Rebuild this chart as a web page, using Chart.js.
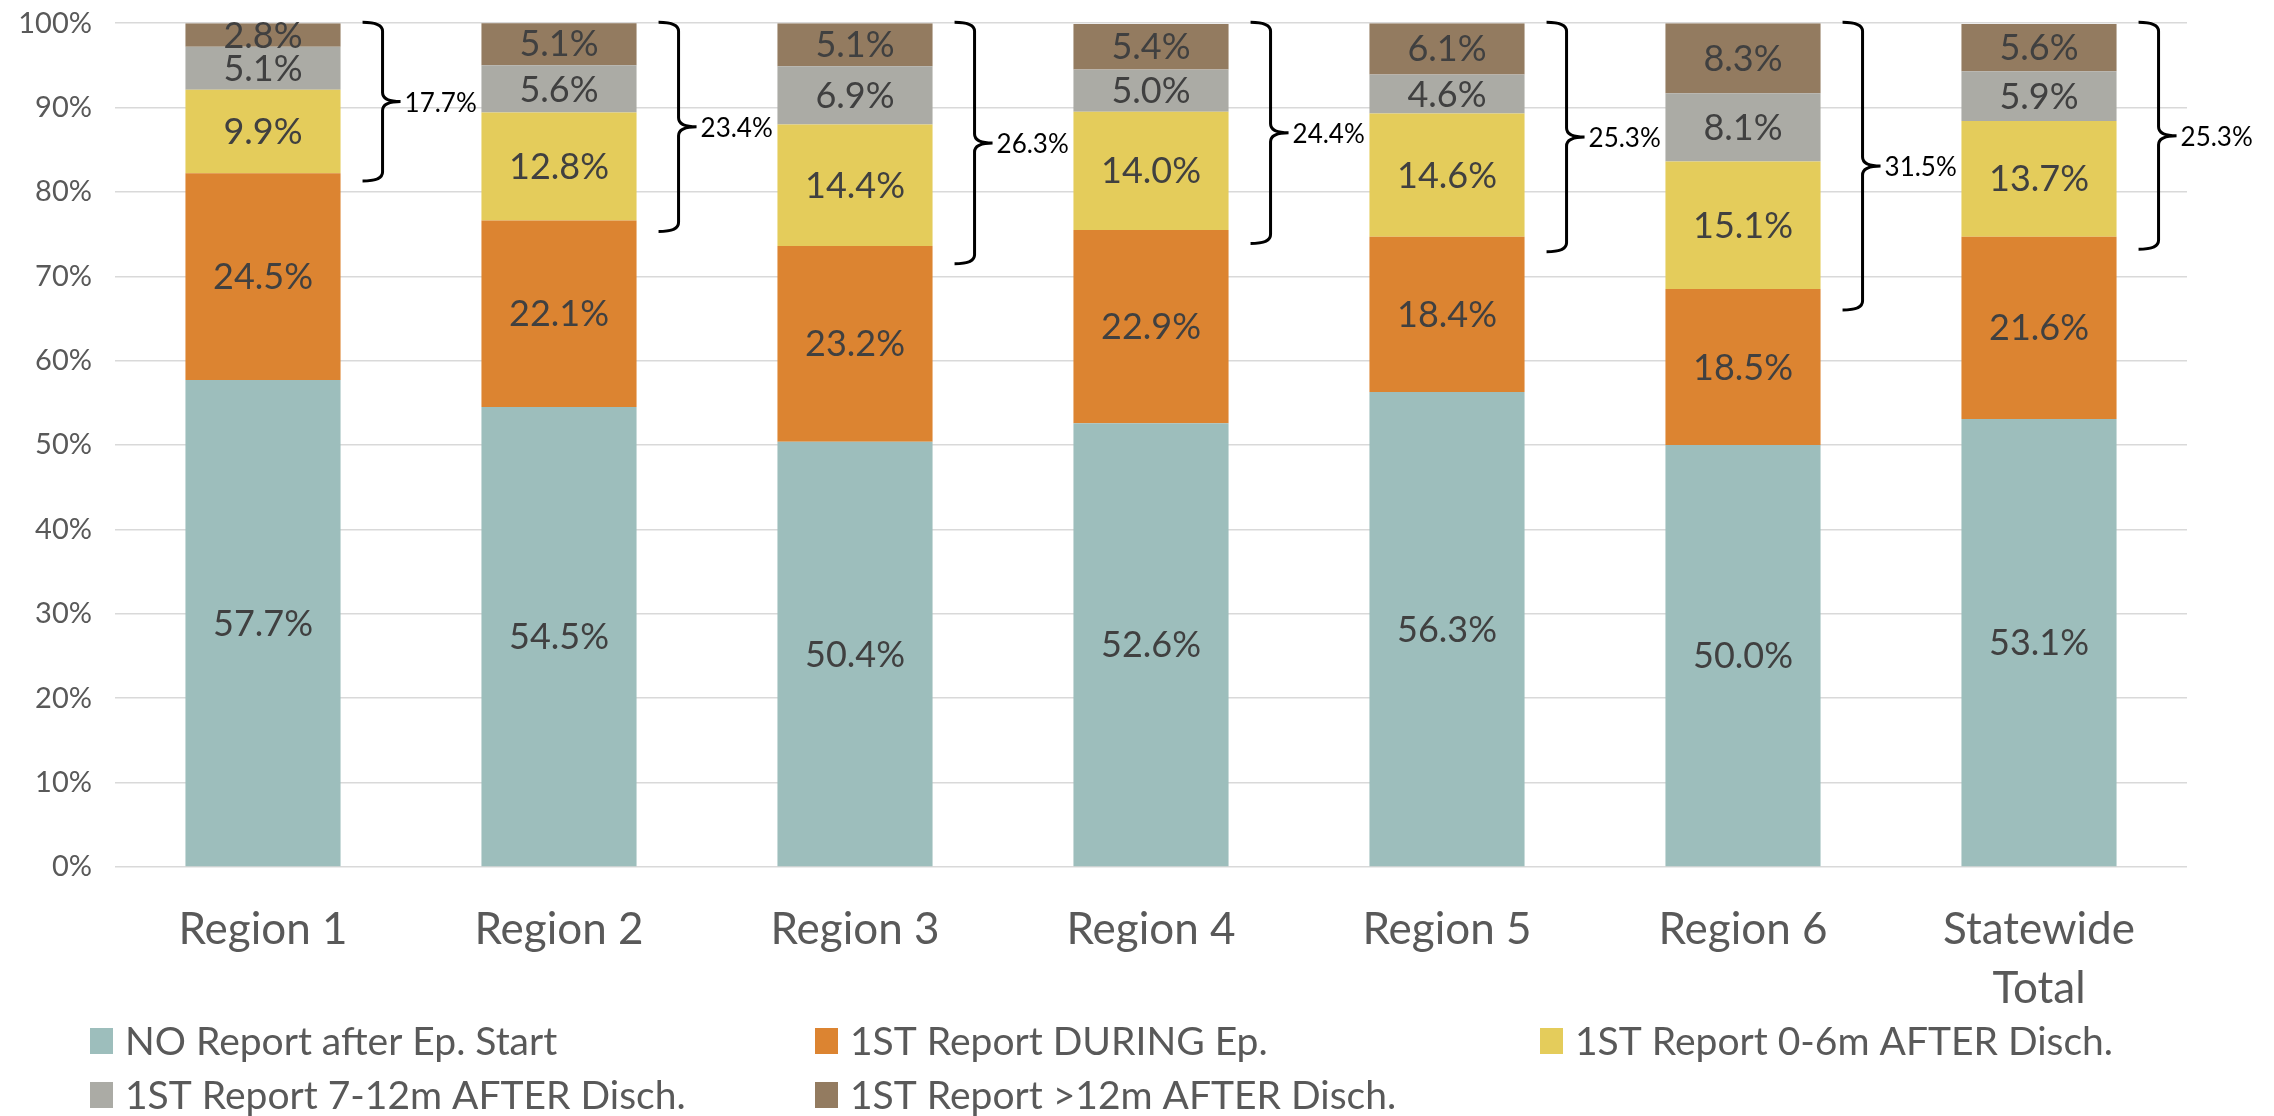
<!DOCTYPE html>
<html>
<head>
<meta charset="utf-8">
<script src="https://cdn.jsdelivr.net/npm/chart.js@4"></script>
<style>
  html, body { margin: 0; padding: 0; background: #fff; }
  #wrap { width: 2274px; height: 1116px; }
</style>
</head>
<body>
<div id="wrap"><canvas id="chart" width="2274" height="1116"></canvas></div>
<script>
// categories and series (percent)
const categories = ['Region 1', 'Region 2', 'Region 3', 'Region 4', 'Region 5', 'Region 6', ['Statewide', 'Total']];
const seriesNames = [
  'NO Report after Ep. Start',
  '1ST Report DURING Ep.',
  '1ST Report 0-6m AFTER Disch.',
  '1ST Report 7-12m AFTER Disch.',
  '1ST Report >12m AFTER Disch.'
];
const noReport     = [57.7, 54.5, 50.4, 52.6, 56.3, 50.0, 53.1];
const duringEp     = [24.5, 22.1, 23.2, 22.9, 18.4, 18.5, 21.6];
const after0to6    = [9.9, 12.8, 14.4, 14.0, 14.6, 15.1, 13.7];
const after7to12   = [5.1, 5.6, 6.9, 5.0, 4.6, 8.1, 5.9];
const afterOver12  = [2.8, 5.1, 5.1, 5.4, 6.1, 8.3, 5.6];
// bracket totals and where each bracket ends
const afterTotals  = [17.7, 23.4, 26.3, 24.4, 25.3, 31.5, 25.3];
const bracketLow   = [81.3, 75.3, 71.5, 73.9, 72.9, 66.0, 73.2];
const yTicks = [0, 10, 20, 30, 40, 50, 60, 70, 80, 90, 100];

const colors = ['#9DBEBC', '#DC8431', '#E4CC5B', '#ABABA5', '#937B60'];
const FONT = 'Lato, "Open Sans", sans-serif';

// 数据标签：每段中间写百分比
const segLabels = {
  id: 'segLabels',
  afterDatasetsDraw(chart) {
    const ctx = chart.ctx;
    ctx.save();
    ctx.font = '36px ' + FONT;
    ctx.fillStyle = '#404040';
    ctx.textAlign = 'center';
    ctx.textBaseline = 'middle';
    chart.data.datasets.forEach((ds, i) => {
      const meta = chart.getDatasetMeta(i);
      meta.data.forEach((bar, j) => {
        const v = ds.data[j];
        ctx.fillText(v.toFixed(1) + '%', bar.x, (bar.y + bar.base) / 2 + 1);
      });
    });
    ctx.restore();
  }
};

// 花括号 + 合计
const braces = {
  id: 'braces',
  afterDraw(chart) {
    const ctx = chart.ctx;
    const y = chart.scales.y;
    const meta = chart.getDatasetMeta(0);
    ctx.save();
    ctx.strokeStyle = '#000';
    ctx.lineWidth = 3;
    ctx.font = '26px ' + FONT;
    ctx.fillStyle = '#000';
    ctx.textBaseline = 'middle';
    ctx.textAlign = 'left';
    meta.data.forEach((bar, j) => {
      const right = bar.x + bar.width / 2;
      const x0 = right + 22, xs = right + 42, xt = right + 60;
      const top = y.getPixelForValue(100) - 1;
      const bot = y.getPixelForValue(bracketLow[j]);
      const mid = (top + bot) / 2;
      const r = 9;
      ctx.beginPath();
      ctx.moveTo(x0, top);
      ctx.quadraticCurveTo(xs, top, xs, top + r);
      ctx.lineTo(xs, mid - r);
      ctx.quadraticCurveTo(xs, mid, xt, mid);
      ctx.moveTo(xt, mid);
      ctx.quadraticCurveTo(xs, mid, xs, mid + r);
      ctx.lineTo(xs, bot - r);
      ctx.quadraticCurveTo(xs, bot, x0, bot);
      ctx.stroke();
      ctx.fillText(afterTotals[j].toFixed(1) + '%', xt + 4, mid + 2);
    });
    ctx.restore();
  }
};

// 图例：两行三列
const gridLegend = {
  id: 'gridLegend',
  afterDraw(chart) {
    const ctx = chart.ctx;
    const colX = [90, 815, 1540];
    const rowY = [1041, 1095];
    ctx.save();
    ctx.font = '39px ' + FONT;
    ctx.textBaseline = 'middle';
    chart.data.datasets.forEach((ds, i) => {
      const x = colX[i % 3], yy = rowY[Math.floor(i / 3)];
      ctx.fillStyle = ds.backgroundColor;
      ctx.fillRect(x, yy - 13, 23, 26);
      ctx.fillStyle = '#595959';
      ctx.fillText(ds.label, x + 35, yy + 1);
    });
    ctx.restore();
  }
};

const seriesData = [noReport, duringEp, after0to6, after7to12, afterOver12];

new Chart(document.getElementById('chart'), {
  type: 'bar',
  data: {
    labels: categories,
    datasets: seriesData.map((d, i) => ({
      label: seriesNames[i],
      data: d,
      backgroundColor: colors[i],
      borderWidth: 0,
      categoryPercentage: 1,
      barPercentage: 0.524
    }))
  },
  options: {
    responsive: false,
    animation: false,
    layout: { padding: { top: 0, right: 87, left: 0, bottom: 0 } },
    scales: {
      x: {
        stacked: true,
        grid: { display: false, drawTicks: false },
        border: { display: false },
        ticks: { color: '#595959', font: { family: FONT, size: 44, lineHeight: 1.34 }, padding: 33, maxRotation: 0, autoSkip: false },
        afterFit(s) { s.height = 249; }
      },
      y: {
        stacked: true,
        min: 0,
        max: 100,
        afterBuildTicks(s) { s.ticks = yTicks.map(v => ({ value: v })); },
        grid: { color: '#D9D9D9', lineWidth: 1.5, drawTicks: false },
        border: { display: false },
        // 小行高只影响顶部留白的计算
        ticks: { color: '#595959', font: { family: FONT, size: 29, lineHeight: 0.01 }, padding: 23, callback: v => v + '%' },
        afterFit(s) { s.width = 115; }
      }
    },
    plugins: {
      legend: { display: false },
      tooltip: { enabled: false }
    }
  },
  plugins: [segLabels, braces, gridLegend]
});
</script>
</body>
</html>
